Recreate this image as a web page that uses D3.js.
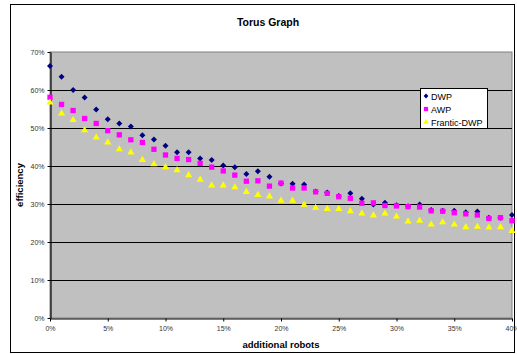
<!DOCTYPE html>
<html>
<head>
<meta charset="utf-8">
<script src="https://cdn.jsdelivr.net/npm/d3@7"></script>
<style>
body { margin: 0; background: #fff; }
svg { display: block; font-family: Arial, "Liberation Sans", sans-serif; }
</style>
</head>
<body>
<svg id="chart" width="517" height="354"></svg>
<script>
// additional robots, percent
var robots = d3.range(0, 41)
var dwp = [66.3, 63.5, 60.0, 58.0, 54.9, 52.3, 51.2, 50.4, 48.1, 47.0,
	45.3, 43.6, 43.6, 42.0, 41.6, 40.1, 39.7, 37.9, 38.6, 37.2,
	35.4, 35.3, 35.1, 33.3, 33.0, 32.1, 32.8, 31.4, 29.9, 30.3,
	29.7, 29.4, 29.9, 28.4, 28.2, 28.2, 27.8, 28.0, 26.4, 26.4, 27.1]
var awp = [58.1, 56.2, 54.6, 52.5, 51.2, 49.3, 48.2, 46.9, 46.2, 44.4,
	42.9, 42.0, 41.7, 40.7, 39.7, 38.7, 37.6, 36.0, 36.1, 34.7,
	35.5, 34.2, 34.2, 33.2, 32.8, 31.9, 31.5, 30.2, 30.3, 29.6,
	29.5, 29.3, 29.2, 28.2, 28.1, 27.7, 27.4, 27.1, 26.2, 26.4, 25.6]
var frantic = [56.7, 53.8, 52.1, 49.4, 47.5, 46.2, 44.4, 43.6, 41.6, 40.5,
	39.7, 38.9, 37.6, 36.4, 34.9, 34.9, 34.4, 33.2, 32.4, 32.0,
	30.9, 30.9, 29.8, 29.0, 28.7, 28.7, 28.1, 27.5, 27.0, 27.5,
	26.7, 25.4, 25.6, 24.6, 25.2, 24.6, 23.9, 24.0, 23.8, 23.9, 22.9]
var xTicks = [0, 5, 10, 15, 20, 25, 30, 35, 40]
var yTicks = [0, 10, 20, 30, 40, 50, 60, 70]
var seriesNames = ['DWP', 'AWP', 'Frantic-DWP']

var svg = d3.select('#chart')
var pLeft = 50, pRight = 512, pTop = 52, pBottom = 318

var x = d3.scaleLinear().domain([0, 40]).range([pLeft, pRight])
var y = d3.scaleLinear().domain([0, 70]).range([pBottom, pTop])

// outer chart frame
svg.append('rect').attr('x', 10.5).attr('y', 4.5).attr('width', 504).attr('height', 348)
	.attr('fill', '#fff').attr('stroke', '#000').attr('stroke-width', 1)

// plot area
svg.append('rect').attr('x', pLeft).attr('y', pTop).attr('width', pRight - pLeft).attr('height', pBottom - pTop)
	.attr('fill', '#c0c0c0').attr('stroke', '#808080').attr('stroke-width', 1)

svg.append('g').selectAll('line').data(yTicks.slice(1, -1)).enter().append('line')
	.attr('x1', pLeft).attr('x2', pRight)
	.attr('y1', function(d) { return Math.round(y(d)) + 0.5 })
	.attr('y2', function(d) { return Math.round(y(d)) + 0.5 })
	.attr('stroke', '#000').attr('stroke-width', 1)

var fmt = function(d) { return d + '%' }

svg.append('g').attr('transform', 'translate(' + (pLeft + 0.5) + ',0)')
	.call(d3.axisLeft(y).tickValues(yTicks).tickFormat(fmt).tickSize(3).tickSizeOuter(0).tickPadding(3))
svg.append('g').attr('transform', 'translate(0,' + (pBottom + 0.5) + ')')
	.call(d3.axisBottom(x).tickValues(xTicks).tickFormat(fmt).tickSize(3).tickSizeOuter(0).tickPadding(5))

svg.selectAll('.domain').attr('stroke', '#000').attr('stroke-width', 1.2)
svg.selectAll('.tick line').attr('stroke', '#000')
svg.selectAll('.tick text').attr('font-size', 7).attr('fill', '#333')
	.attr('font-family', 'Arial, "Liberation Sans", sans-serif')

// markers
var diamond = d3.symbol().type(d3.symbolSquare).size(18)   // rotated 45deg below
var square = d3.symbol().type(d3.symbolSquare).size(28)
var triangle = d3.symbol().type(d3.symbolTriangle).size(22)
var syms = [diamond, square, triangle]
var rots = [45, 0, 0]
var cols = ['#000080', '#ff00ff', '#ffff00']

function drawSeries(vals, k) {
	svg.append('g').selectAll('path').data(vals).enter().append('path')
		.attr('d', syms[k])
		.attr('transform', function(d, i) { return 'translate(' + x(robots[i]) + ',' + y(d) + ') rotate(' + rots[k] + ')' })
		.attr('fill', cols[k])
}
drawSeries(dwp, 0)
drawSeries(awp, 1)
drawSeries(frantic, 2)

// legend
var lg = svg.append('g')
lg.append('rect').attr('x', 420.5).attr('y', 88.5).attr('width', 67).attr('height', 40)
	.attr('fill', '#fff').attr('stroke', '#000').attr('stroke-width', 1)
seriesNames.forEach(function(name, i) {
	var cy = 96 + i * 13
	lg.append('path').attr('d', syms[i]).attr('transform', 'translate(426,' + cy + ') rotate(' + rots[i] + ') scale(0.8)').attr('fill', cols[i])
	lg.append('text').attr('x', 431).attr('y', cy + 3.5).attr('font-size', 9).attr('fill', '#000').text(name)
})

// titles
svg.append('text').attr('x', 268).attr('y', 26).attr('text-anchor', 'middle')
	.attr('font-size', 10.5).attr('font-weight', 'bold').text('Torus Graph')
svg.append('text').attr('x', 281).attr('y', 348).attr('text-anchor', 'middle')
	.attr('font-size', 9.5).attr('font-weight', 'bold').text('additional robots')
svg.append('text').attr('transform', 'translate(23,185) rotate(-90)').attr('text-anchor', 'middle')
	.attr('font-size', 9.5).attr('font-weight', 'bold').text('efficiency')
</script>
</body>
</html>
